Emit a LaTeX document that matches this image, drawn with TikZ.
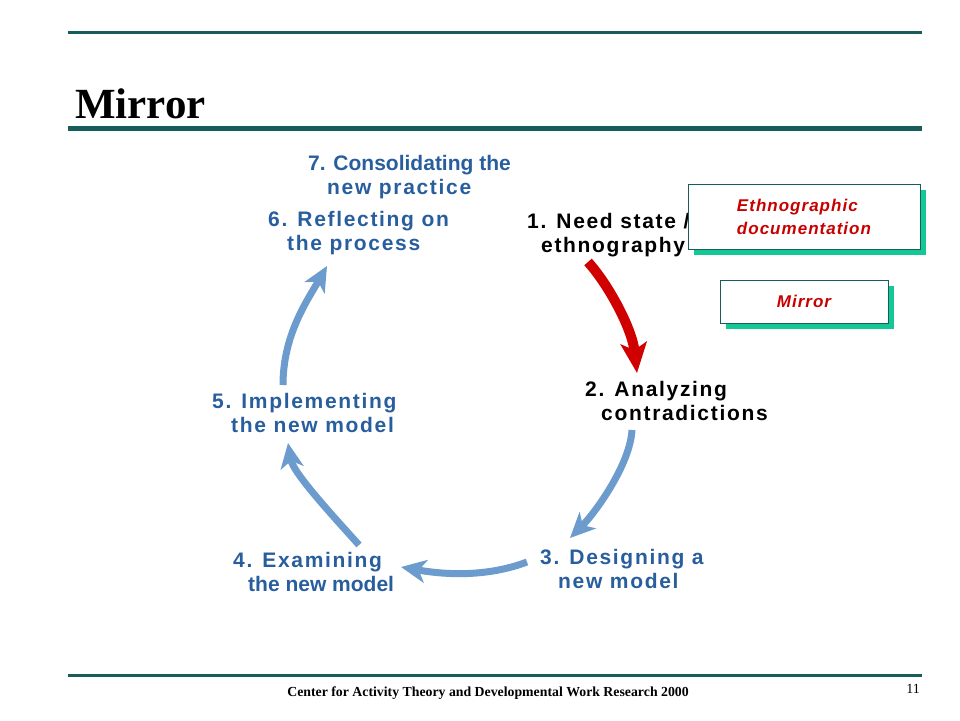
\documentclass[tikz,border=0pt]{standalone}
\usepackage{fontspec}
\setmainfont{Liberation Serif}
\newfontfamily\stagefont[LetterSpace=8]{Liberation Sans}
\newfontfamily\tightfont{Liberation Sans}
\newfontfamily\notefont[LetterSpace=6]{Liberation Sans}
\usetikzlibrary{arrows.meta,shadows}

\definecolor{rulegreen}{RGB}{24,92,92}
\definecolor{stageblue}{RGB}{40,94,158}
\definecolor{arrowblue}{RGB}{108,155,205}
\definecolor{arrowred}{RGB}{208,0,0}
\definecolor{notered}{RGB}{200,0,0}
\definecolor{shadowgreen}{RGB}{20,200,150}

\begin{document}
\begin{tikzpicture}[x=1pt,y=-1pt]
\tikzstyle{stage} = [anchor=base west, align=left, inner sep=0pt, text=stageblue,
font=\stagefont\bfseries\fontsize{21}{24.5}\selectfont]
\tikzstyle{note} = [rectangle, draw=rulegreen, fill=white, text=notered, align=left,
font=\notefont\bfseries\itshape\fontsize{17}{23}\selectfont,
drop shadow={shadow xshift=6pt, shadow yshift=-6pt, fill=shadowgreen, opacity=1}]
\tikzstyle{rule} = [draw=rulegreen]
\tikzstyle{blueline} = [draw=arrowblue, line width=7pt, -{Stealth[length=25pt,width=23pt,inset=7pt]}]
\tikzstyle{redline} = [draw=arrowred, line width=10pt, -{Stealth[length=30pt,width=26pt,inset=7pt]}]

\useasboundingbox (0,0) rectangle (960,720);

% header and footer
\draw[rule, line width=3pt] (68,32) -- (922,32);
\draw[rule, line width=5pt] (68,128) -- (922,128);
\draw[rule, line width=3pt] (68,675) -- (922,675);
\node[anchor=base west, inner sep=0pt, font=\bfseries\fontsize{43}{43}\selectfont] (title) at (75,118) {Mirror};
\node[anchor=base, inner sep=0pt, font=\bfseries\fontsize{13.8}{14}\selectfont] (footer) at (488,696)
{Center for Activity Theory and Developmental Work Research 2000};
\node[anchor=base east, inner sep=0pt, font=\fontsize{14}{14}\selectfont] (page) at (920,693) {11};

% the cycle (placed at the baseline of the second line)
\node[stage] (consol) at (308,194.5) {{\tightfont 7. Consolidating the}\\\hspace*{19pt}new practice};
\node[stage] (reflect) at (268,250.5) {6. Reflecting on\\\hspace*{19pt}the process};
\node[stage, text=black] (need) at (527,252.5) {1. Need state /\\\hspace*{14pt}ethnography};
\node[stage, text=black] (analyze) at (585,420.5) {2. Analyzing\\\hspace*{16pt}contradictions};
\node[stage] (design) at (540,588.5) {3. Designing a\\\hspace*{18pt}new model};
\node[stage] (examine) at (233,591.5) {4. Examining\\\hspace*{15pt}{\tightfont the new model}};
\node[stage] (implement) at (212,432.5) {5. Implementing\\\hspace*{19pt}the new model};

% boxes
\node[note, minimum width=232pt, minimum height=65pt] (ethno) at (804,216.5) {Ethnographic\\documentation};
\node[note, minimum width=168pt, minimum height=43pt] (mirror) at (804,301.5) {Mirror};

\draw[redline] ([shift={(61,9.5)}]need.base west) .. controls +(20,22) and +(-5,-45) .. ([shift={(52,-47.5)}]analyze.base west);
\draw[blueline] ([shift={(47,9.5)}]analyze.base west) .. controls +(-2,35) and +(25,-25) .. ([shift={(30,-50.5)}]design.base west);
\draw[blueline] ([shift={(-13,-26.5)}]design.base west) .. controls +(-40,15) and +(45,8) .. ([shift={(168,-24.5)}]examine.base west);
\draw[blueline] ([shift={(126,-46.5)}]examine.base west) .. controls +(-25,-28) and +(5,30) .. ([shift={(76,10.5)}]implement.base west);
\draw[blueline] ([shift={(71,-47.5)}]implement.base west) .. controls +(0,-50) and +(-20,35) .. ([shift={(59,15.5)}]reflect.base west);

\end{tikzpicture}
\end{document}
